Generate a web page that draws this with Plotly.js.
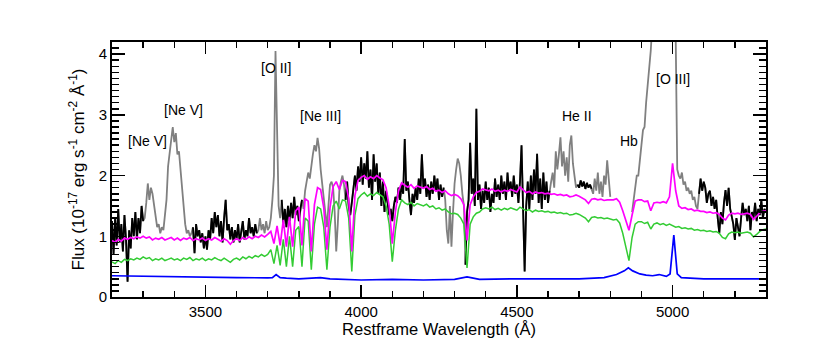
<!DOCTYPE html>
<html>
<head>
<meta charset="utf-8">
<script src="https://cdn.plot.ly/plotly-3.0.1.min.js"></script>
<style>
  html, body { margin: 0; padding: 0; background: #fff; }
  #chart { width: 830px; height: 346px; }
</style>
</head>
<body>
<div id="chart"></div>
<script>
// Observed spectrum, 5 A steps from 3200 A (one row = 100 A)
const obsStart = 3200;
const obsStep = 5;
const obsFlux = [
  1.25, 0.7, 1.3, 0.85, 1.45, 0.9, 1.2, 0.75, 1.35, 0.95, 0.25, 1.1, 0.8, 1.3, 1.0, 1.4, 0.95, 1.3, 1.05, 1.5,
  1.25, 1.3, 1.55, 1.87, 1.6, 1.8, 1.7, 1.5, 1.3, 1.15, 1.2, 1.05, 1.15, 1.1, 1.35, 1.6, 2.15, 2.35, 2.6, 2.8,
  2.55, 2.7, 2.35, 2.4, 2.1, 1.75, 1.45, 1.2, 1.05, 1.1, 1.0, 1.05, 1.15, 0.72, 1.2, 1.0, 1.1, 0.9, 1.05, 0.8,
  1.0, 0.78, 1.1, 0.95, 1.3, 1.05, 1.4, 1.15, 1.35, 1.0, 1.25, 0.9, 1.3, 1.6, 1.1, 1.2, 0.95, 1.15, 0.9, 1.1,
  0.95, 1.2, 0.9, 1.05, 1.25, 0.95, 1.1, 1.0, 1.3, 1.05, 1.15, 1.0, 1.2, 1.05, 1.1, 1.3, 1.1, 1.2, 1.05, 1.25,
  1.1, 1.15, 1.3, 1.6, 2.0, 4.05, 2.4, 1.5, 1.3, 1.6, 1.2, 1.45, 1.15, 1.5, 1.25, 1.55, 1.3, 1.65, 1.35, 1.5,
  1.25, 1.45, 1.6, 1.45, 1.75, 1.9, 2.05, 1.95, 2.2, 2.35, 2.5, 2.4, 2.62, 2.45, 2.1, 1.85, 1.6, 1.3, 1.15, 1.5,
  1.85, 1.9, 1.8, 1.4, 0.75, 1.2, 1.75, 1.9, 2.0, 1.85, 1.6, 1.9, 1.5, 1.35, 1.55, 1.8, 2.0, 1.75, 2.15, 1.9,
  2.3, 1.85, 2.2, 1.95, 2.4, 1.8, 2.1, 1.6, 2.35, 1.9, 2.2, 1.7, 2.05, 1.5, 1.9, 1.4, 1.75, 1.55, 1.35, 1.45,
  1.25, 1.5, 1.65, 1.55, 1.8, 1.6, 1.85, 1.7, 2.6, 1.75, 1.9, 1.6, 1.35, 1.7, 1.55, 1.8, 1.6, 1.95, 1.7, 2.35,
  1.8, 1.95, 1.65, 1.85, 1.6, 1.9, 1.7, 2.0, 1.75, 1.95, 1.6, 1.85, 1.65, 1.8, 1.6, 1.1, 0.88, 1.5, 0.83, 1.4,
  1.87, 2.1, 2.28, 2.2, 2.0, 1.7, 1.5, 0.53, 1.4, 1.6, 2.54, 1.7, 1.95, 1.5, 3.1, 1.6, 1.85, 1.45, 1.75, 1.55,
  1.9, 1.6, 1.8, 1.4, 1.7, 1.55, 1.95, 1.65, 1.85, 1.6, 2.0, 1.7, 1.9, 1.6, 2.05, 1.75, 1.9, 1.65, 2.0, 1.7,
  1.85, 1.55, 1.9, 2.5, 1.6, 0.42, 1.5, 1.9, 1.45, 2.0, 1.6, 2.1, 1.7, 2.36, 1.55, 1.95, 1.45, 2.05, 1.6, 1.9,
  1.55, 1.75, 1.9, 2.05, 1.8, 2.4, 2.1, 2.35, 2.63, 2.15, 2.4, 2.0, 2.3, 1.9, 2.5, 2.66, 2.2, 2.0, 1.8, 1.85,
  1.8, 1.92, 1.82, 1.9, 1.78, 1.88, 1.8, 1.85, 1.78, 1.7, 1.95, 1.75, 2.05, 1.7, 1.9, 1.65, 2.0, 1.85, 2.25, 1.9,
  1.65, null, null, null, null, null, null, null, null, null, null, null, null, null, 1.4, 1.6, 1.75, 2.0, 2.0, 2.3,
  2.5, 2.75, 2.8, 3.2, 3.45, 3.8, 4.06, 4.5, 5.0, 5.5, 6.0, 6.5, 6.5, 6.0, 5.5, 5.5, 6.0, 7.5, 9.0, 10.5,
  11.0, 9.0, 4.3, 2.1, 2.0, 1.95, 2.05, 1.85, 1.9, 1.75, 1.8, 1.7, 1.75, 1.6, 1.65, 1.5, 1.45, 1.7, 1.95, 1.75,
  1.9, 1.8, 1.55, 1.7, 1.75, 1.5, 1.65, 1.45, 1.6, 1.3, 1.05, 1.4, 1.2, 1.55, 1.76, 1.5, 1.8, 1.45, 1.35, 1.2,
  0.94, 1.3, 1.15, 1.0, 1.3, 1.55, 1.35, 1.45, 1.25, 1.5, 1.1, 1.4, 1.3, 1.55, 1.25, 1.45, 1.35, 1.6, 1.3, 1.45,
  1.4
];

// emission-line windows, shown in gray only
const lineMasks = [[3302, 3457], [3667, 3742], [3812, 3947], [4267, 4332], [4607, 4692], [4742, 4802], [4867, 5082]];

// Model components, 10 A steps from 3200 A
const modelStart = 3200;
const modelStep = 10;
const stellarFlux = [
  0.58, 0.55, 0.6, 0.57, 0.62, 0.6, 0.63, 0.61, 0.64, 0.62,
  0.66, 0.63, 0.65, 0.6, 0.63, 0.61, 0.64, 0.6, 0.62, 0.64,
  0.61, 0.63, 0.6, 0.64, 0.62, 0.65, 0.6, 0.63, 0.61, 0.64,
  0.6, 0.63, 0.61, 0.65, 0.62, 0.6, 0.64, 0.61, 0.57, 0.62,
  0.64, 0.61, 0.66, 0.63, 0.67, 0.64, 0.68, 0.66, 0.7, 0.67,
  0.7, 0.78, 0.55, 0.85, 0.52, 0.95, 0.5, 1.0, 0.5, 1.1,
  1.16, 0.5, 1.3, 1.25, 0.45, 1.2, 1.48, 1.45, 1.15, 0.45,
  1.15, 1.5, 1.58, 1.45, 1.6, 1.58, 1.3, 0.42, 1.35, 1.62,
  1.68, 1.72, 1.66, 1.7, 1.67, 1.72, 1.68, 1.65, 1.5, 1.2,
  0.58, 1.1, 1.45, 1.6, 1.55, 1.52, 1.56, 1.5, 1.54, 1.52,
  1.5, 1.53, 1.48, 1.5, 1.45, 1.47, 1.43, 1.45, 1.4, 1.37,
  1.38, 1.36, 1.3, 1.2, 0.48, 1.2, 1.32, 1.38, 1.4, 1.45,
  1.47, 1.45, 1.48, 1.44, 1.46, 1.43, 1.46, 1.44, 1.47, 1.45,
  1.43, 1.48, 1.45, 1.42, 1.44, 1.4, 1.43, 1.41, 1.42, 1.4,
  1.41, 1.39, 1.4, 1.38, 1.39, 1.37, 1.38, 1.35, 1.36, 1.38,
  1.36, 1.33, 1.3, 1.24, 1.31, 1.32, 1.3, 1.31, 1.29, 1.3,
  1.28, 1.27, 1.28, 1.22, 1.05, 0.8, 0.6, 0.98, 1.2, 1.24,
  1.24, 1.21, 1.23, 1.12, 1.2, 1.22, 1.19, 1.21, 1.18, 1.2,
  1.17, 1.15, 1.16, 1.13, 1.14, 1.12, 1.13, 1.1, 1.11, 1.09,
  1.1, 1.08, 1.09, 1.07, 1.08, 1.05, 0.98, 0.96, 1.04, 1.07,
  1.06, 1.07, 1.05, 1.06, 1.07, 1.05, 0.99, 1.03, 1.08, 1.11,
  1.12
];
const totalFlux = [
  0.93, 0.9, 0.95, 0.92, 0.97, 0.95, 0.98, 0.96, 0.99, 0.97,
  1.0, 0.97, 0.99, 0.94, 0.97, 0.95, 0.98, 0.94, 0.96, 0.98,
  0.94, 0.97, 0.93, 0.97, 0.95, 0.98, 0.93, 0.96, 0.94, 0.97,
  0.93, 0.96, 0.94, 0.98, 0.95, 0.92, 0.96, 0.93, 0.87, 0.93,
  0.96, 0.93, 0.98, 0.95, 0.99, 0.96, 1.0, 0.98, 1.02, 0.99,
  1.03, 1.08, 0.88, 1.17, 0.85, 1.27, 0.83, 1.32, 0.83, 1.42,
  1.48, 0.85, 1.62, 1.58, 0.75, 1.52, 1.8, 1.77, 1.47, 0.78,
  1.47, 1.82, 1.9, 1.77, 1.92, 1.9, 1.62, 0.75, 1.67, 1.92,
  1.97, 2.0, 1.94, 1.98, 1.95, 2.0, 1.96, 1.93, 1.8, 1.5,
  0.88, 1.4, 1.75, 1.88, 1.84, 1.81, 1.85, 1.79, 1.83, 1.81,
  1.79, 1.82, 1.77, 1.79, 1.74, 1.76, 1.72, 1.75, 1.7, 1.67,
  1.69, 1.67, 1.62, 1.52, 0.93, 1.52, 1.65, 1.72, 1.74, 1.78,
  1.77, 1.75, 1.78, 1.74, 1.76, 1.73, 1.76, 1.74, 1.77, 1.75,
  1.73, 1.81, 1.76, 1.72, 1.74, 1.7, 1.73, 1.71, 1.72, 1.7,
  1.71, 1.69, 1.7, 1.68, 1.69, 1.67, 1.68, 1.65, 1.66, 1.68,
  1.66, 1.63, 1.6, 1.54, 1.61, 1.62, 1.6, 1.61, 1.59, 1.6,
  1.6, 1.6, 1.62, 1.56, 1.42, 1.25, 1.1, 1.35, 1.58, 1.6,
  1.6, 1.57, 1.58, 1.42, 1.55, 1.56, 1.55, 1.57, 1.55, 1.65,
  2.2, 1.75, 1.5, 1.46, 1.47, 1.44, 1.45, 1.42, 1.43, 1.41,
  1.41, 1.39, 1.4, 1.38, 1.39, 1.36, 1.3, 1.27, 1.35, 1.38,
  1.37, 1.38, 1.36, 1.37, 1.38, 1.36, 1.28, 1.33, 1.39, 1.41,
  1.42
];

// AGN component
const agnWave = [3200, 3300, 3400, 3500, 3600, 3700, 3715, 3727, 3740, 3760, 3800, 3869, 3900, 4000, 4100, 4200,
  4300, 4340, 4380, 4500, 4600, 4700, 4780, 4820, 4845, 4858, 4872, 4895, 4915, 4936, 4957, 4980, 4992, 5004,
  5015, 5028, 5100, 5200, 5300];
const agnFlux = [0.35, 0.34, 0.335, 0.33, 0.32, 0.315, 0.32, 0.37, 0.32, 0.31, 0.3, 0.32, 0.3, 0.28, 0.29, 0.28,
  0.29, 0.33, 0.29, 0.3, 0.3, 0.3, 0.32, 0.37, 0.43, 0.48, 0.43, 0.38, 0.36, 0.35, 0.37, 0.34, 0.38, 1.02,
  0.38, 0.32, 0.3, 0.3, 0.3];

const lineLabels = ['[Ne V]', '[Ne V]', '[O II]', '[Ne III]', 'He II', 'Hb', '[O III]'];
const labelWave = [3314, 3429, 3727, 3868, 4692, 4859, 5000];
const labelFlux = [2.57, 3.08, 3.77, 2.98, 2.98, 2.57, 3.59];

function inMask(w) {
  return lineMasks.some(r => w >= r[0] && w <= r[1]);
}

const obsClean = obsFlux.map((f, i) => inMask(obsStart + i * obsStep) ? null : f);

const data = [
  { y: obsFlux, x0: obsStart, dx: obsStep, mode: 'lines', line: { color: '#808080', width: 1.8 }, hoverinfo: 'skip' },
  { y: obsClean, x0: obsStart, dx: obsStep, mode: 'lines', line: { color: '#000000', width: 1.8 }, hoverinfo: 'skip' },
  { y: stellarFlux, x0: modelStart, dx: modelStep, mode: 'lines', line: { color: '#33cc33', width: 1.5 } },
  { y: totalFlux, x0: modelStart, dx: modelStep, mode: 'lines', line: { color: '#ff00ff', width: 1.7 } },
  { x: agnWave, y: agnFlux, mode: 'lines', line: { color: '#0000ff', width: 1.7 } }
];

const annotations = lineLabels.map((t, i) => ({
  x: labelWave[i], y: labelFlux[i], xref: 'x', yref: 'y', text: t, showarrow: false,
  font: { family: 'Liberation Sans, Arial, sans-serif', size: 14, color: '#000' }
}));

const layout = {
  width: 830,
  height: 346,
  margin: { l: 112, r: 64, t: 42, b: 49 },
  paper_bgcolor: '#fff',
  plot_bgcolor: '#fff',
  showlegend: false,
  font: { family: 'Liberation Sans, Arial, sans-serif', size: 15, color: '#000' },
  xaxis: {
    range: [3200, 5300],
    tick0: 3500, dtick: 500,
    ticks: 'inside', ticklen: 12, tickwidth: 1.5, tickcolor: '#000',
    minor: { dtick: 100, ticks: 'inside', ticklen: 6, tickwidth: 1.5, tickcolor: '#000' },
    showline: true, linecolor: '#000', linewidth: 2, mirror: 'allticks',
    showgrid: false, zeroline: false,
    title: { text: 'Restframe Wavelength (Å)', font: { size: 16.5 }, standoff: 4 }
  },
  yaxis: {
    range: [0, 4.2],
    tick0: 0, dtick: 1,
    ticks: 'inside', ticklen: 13, tickwidth: 1.5, tickcolor: '#000',
    minor: { dtick: 0.1, ticks: 'inside', ticklen: 7, tickwidth: 1.5, tickcolor: '#000' },
    showline: true, linecolor: '#000', linewidth: 2, mirror: 'allticks',
    showgrid: false, zeroline: false,
    title: { text: 'Flux (10<sup>-17</sup> erg s<sup>-1</sup> cm<sup>-2</sup> Å<sup>-1</sup>)', font: { size: 17 }, standoff: 10 }
  },
  annotations: annotations
};

Plotly.newPlot('chart', data, layout, { staticPlot: true, displayModeBar: false });
</script>
</body>
</html>
